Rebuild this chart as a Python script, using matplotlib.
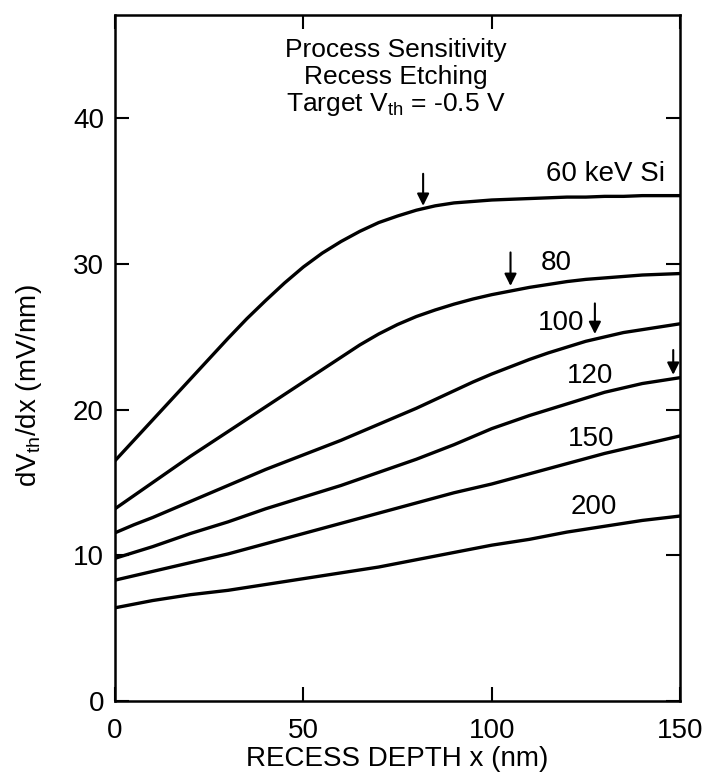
import matplotlib
matplotlib.use("Agg")
import matplotlib.pyplot as plt

plt.rcParams["font.family"] = ["Liberation Sans", "DejaVu Sans"]
plt.rcParams["mathtext.fontset"] = "custom"
plt.rcParams["mathtext.rm"] = "Liberation Sans"
plt.rcParams["mathtext.it"] = "Liberation Sans:italic"

# recess depth (nm) where each curve was read
depth = [0, 5, 10, 15, 20, 25, 30, 35, 40, 45, 50, 55, 60, 65, 70, 75,
         80, 85, 90, 95, 100, 105, 110, 115, 120, 125, 130, 135, 140, 145, 150]

# dVth/dx (mV/nm) per implant energy
dv_60 = [16.5, 17.9, 19.3, 20.7, 22.1, 23.5, 24.9, 26.25, 27.5, 28.7, 29.8,
         30.75, 31.55, 32.25, 32.85, 33.3, 33.7, 34.0, 34.2, 34.3, 34.4,
         34.45, 34.5, 34.55, 34.6, 34.6, 34.65, 34.65, 34.7, 34.7, 34.7]
dv_80 = [13.2, 14.1, 15.0, 15.9, 16.8, 17.65, 18.5, 19.35, 20.2, 21.05, 21.9,
         22.75, 23.6, 24.45, 25.2, 25.85, 26.4, 26.85, 27.25, 27.6, 27.9,
         28.15, 28.4, 28.6, 28.8, 28.95, 29.05, 29.15, 29.25, 29.3, 29.35]
dv_100 = [11.55, 12.1, 12.6, 13.15, 13.7, 14.25, 14.8, 15.35, 15.9, 16.4, 16.9,
          17.4, 17.9, 18.45, 19.0, 19.55, 20.1, 20.7, 21.3, 21.9, 22.45,
          22.95, 23.45, 23.9, 24.3, 24.7, 25.0, 25.3, 25.5, 25.7, 25.9]
dv_120 = [9.8, 10.2, 10.6, 11.05, 11.5, 11.9, 12.3, 12.75, 13.2, 13.6, 14.0,
          14.4, 14.8, 15.25, 15.7, 16.15, 16.6, 17.1, 17.6, 18.15, 18.7,
          19.15, 19.6, 20.0, 20.4, 20.8, 21.2, 21.5, 21.8, 22.0, 22.2]
dv_150 = [8.3, 8.6, 8.9, 9.2, 9.5, 9.8, 10.1, 10.45, 10.8, 11.15, 11.5,
          11.85, 12.2, 12.55, 12.9, 13.25, 13.6, 13.95, 14.3, 14.6, 14.9,
          15.25, 15.6, 15.95, 16.3, 16.65, 17.0, 17.3, 17.6, 17.9, 18.2]
dv_200 = [6.4, 6.65, 6.9, 7.1, 7.3, 7.45, 7.6, 7.8, 8.0, 8.2, 8.4,
          8.6, 8.8, 9.0, 9.2, 9.45, 9.7, 9.95, 10.2, 10.45, 10.7,
          10.9, 11.1, 11.35, 11.6, 11.8, 12.0, 12.2, 12.4, 12.55, 12.7]

curves = [dv_60, dv_80, dv_100, dv_120, dv_150, dv_200]
curve_labels = ["60 keV Si", "80", "100", "120", "150", "200"]
label_x = [130.1, 117.2, 118.4, 126.1, 126.3, 127.0]
label_y = [36.2, 30.05, 25.95, 22.3, 18.0, 13.3]

# arrows marking the chosen depth on the upper curves
arrow_x = [81.8, 105.0, 127.4, 148.2]
arrow_top = [36.2, 30.8, 27.3, 24.1]
arrow_tip = [34.0, 28.5, 25.2, 22.4]

fig = plt.figure(figsize=(7.03, 7.79), dpi=100)
ax = fig.add_axes([0.1636, 0.1001, 0.8037, 0.8806])

for dv in curves:
    ax.plot(depth, dv, color="black", lw=2.4, solid_joinstyle="round")

for lab, lx, ly in zip(curve_labels, label_x, label_y):
    ax.text(lx, ly, lab, ha="center", va="center", fontsize=20)

for xa, y0, y1 in zip(arrow_x, arrow_top, arrow_tip):
    ax.annotate("", xy=(xa, y1), xytext=(xa, y0),
                arrowprops=dict(arrowstyle="-|>", color="black", lw=1.5,
                                mutation_scale=18, shrinkA=0, shrinkB=0))

title_lines = ["Process Sensitivity", "Recess Etching",
               r"Target V$_{\mathrm{th}}$ = -0.5 V"]
title_y = [44.7, 42.85, 40.95]
for line, ty in zip(title_lines, title_y):
    ax.text(74.6, ty, line, ha="center", va="center", fontsize=19)

ax.set_xlim(0, 150)
ax.set_ylim(0, 47.1)
ax.set_xticks([0, 50, 100, 150])
ax.set_yticks([0, 10, 20, 30, 40])
ax.tick_params(direction="in", length=10, width=1.5, labelsize=20,
               top=True, right=True)
ax.tick_params(axis="x", pad=12)
ax.tick_params(axis="y", pad=8)
for sp in ax.spines.values():
    sp.set_linewidth(1.8)

ax.set_xlabel("RECESS DEPTH x (nm)", fontsize=20, labelpad=2)
ax.set_ylabel(r"dV$_{\mathrm{th}}$/dx (mV/nm)", fontsize=20)
ax.yaxis.set_label_coords(-0.125, 0.46)

fig.savefig("out.png", dpi=100)
